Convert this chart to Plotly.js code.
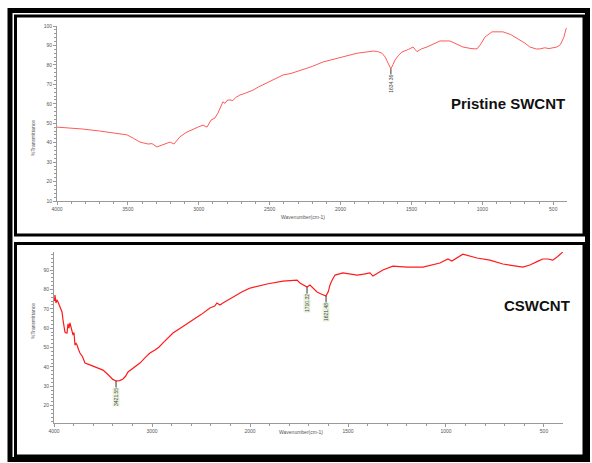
<!DOCTYPE html>
<html>
<head>
<meta charset="utf-8">
<script src="https://cdn.plot.ly/plotly-3.0.1.min.js"></script>
<style>html,body{margin:0;padding:0;background:#fff;}#chart{width:592px;height:463px;}</style>
</head>
<body>
<div id="chart"></div>
<script>
// ---- Pristine SWCNT spectrum (wavenumber cm-1, %T) ----
var pristineWave = [4000, 3900, 3817, 3700, 3605, 3506, 3460, 3415, 3358, 3330, 3295, 3260, 3224, 3203, 3175, 3133, 3090, 3041, 3000, 2970, 2942, 2914, 2886, 2865, 2850, 2840, 2830, 2815, 2800, 2780, 2760, 2740, 2710, 2680, 2650, 2618, 2580, 2519, 2470, 2406, 2350, 2286, 2200, 2124, 2000, 1884, 1820, 1771, 1740, 1708, 1685, 1666, 1645, 1630, 1616, 1590, 1567, 1520, 1489, 1461, 1430, 1391, 1340, 1299, 1229, 1180, 1137, 1080, 1038, 1010, 982, 932, 855, 800, 756, 700, 665, 620, 594, 560, 530, 502, 474, 450, 439, 425, 410, 405];
var pristineT    = [48.0, 47.5, 47.0, 46.0, 45.0, 44.0, 42.2, 40.3, 39.3, 39.5, 37.8, 38.6, 39.8, 40.3, 39.3, 43.0, 45.2, 47.0, 48.2, 49.0, 48.0, 51.6, 52.7, 55.2, 58.0, 59.8, 61.0, 60.2, 61.8, 62.0, 61.6, 63.2, 64.5, 65.2, 66.0, 67.0, 68.6, 70.7, 72.4, 74.8, 75.6, 77.0, 79.2, 81.5, 83.8, 86.0, 86.6, 87.1, 86.9, 86.0, 84.0, 81.0, 77.9, 80.2, 82.5, 85.0, 86.6, 88.0, 89.2, 86.8, 88.2, 89.2, 90.8, 92.3, 92.3, 90.6, 89.2, 88.4, 88.2, 90.8, 94.3, 97.0, 97.0, 95.6, 93.8, 91.2, 89.2, 88.2, 88.2, 88.8, 88.4, 88.7, 89.2, 90.4, 91.8, 94.2, 98.5, 99.0];

// ---- CSWCNT spectrum (wavenumber cm-1, %T) ----
var cswcntWave = [3995, 3990, 3980, 3970, 3959, 3949, 3939, 3928, 3918, 3908, 3898, 3888, 3878, 3867, 3857, 3847, 3837, 3826, 3816, 3806, 3796, 3786, 3775, 3765, 3750, 3735, 3710, 3684, 3640, 3602, 3550, 3500, 3460, 3429, 3400, 3367, 3330, 3296, 3270, 3245, 3180, 3123, 3070, 3021, 2970, 2930, 2888, 2840, 2786, 2700, 2613, 2500, 2409, 2360, 2337, 2320, 2307, 2276, 2174, 2080, 2000, 1913, 1832, 1796, 1760, 1745, 1720, 1709, 1694, 1679, 1658, 1640, 1628, 1612, 1600, 1592, 1580, 1566, 1526, 1490, 1454, 1420, 1388, 1373, 1350, 1322, 1271, 1199, 1118, 1031, 990, 970, 914, 842, 776, 710, 608, 572, 530, 506, 480, 455, 430, 404];
var cswcntT    = [74.0, 77.1, 73.0, 74.6, 73.5, 72.0, 70.9, 70.0, 68.4, 64.2, 60.8, 58.0, 57.6, 57.5, 62.2, 60.0, 62.7, 60.6, 59.0, 56.5, 57.8, 51.3, 52.2, 51.3, 49.0, 47.2, 45.4, 42.0, 41.2, 40.5, 39.4, 38.4, 36.6, 34.8, 33.6, 32.8, 33.0, 33.8, 35.2, 37.4, 39.8, 42.0, 44.8, 47.2, 48.8, 50.2, 52.4, 55.0, 57.5, 60.4, 63.2, 67.0, 70.4, 71.4, 73.0, 72.2, 72.0, 73.0, 76.1, 78.8, 80.7, 82.8, 84.3, 84.6, 84.8, 83.3, 82.0, 81.2, 82.3, 80.7, 78.7, 77.8, 77.1, 76.6, 79.0, 82.3, 85.0, 87.4, 88.5, 88.0, 87.4, 87.9, 88.5, 86.9, 88.4, 90.0, 92.0, 91.5, 91.5, 93.6, 95.7, 94.6, 98.2, 96.2, 95.1, 93.1, 91.5, 92.6, 94.6, 95.7, 95.7, 95.1, 97.0, 99.3];

// ---- peak labels ----
var pristinePeakWave = [1645];
var pristinePeakT    = [77.9];
var pristinePeakText = ["1634.36"];
var cswcntPeakWave = [3367, 1709, 1612];
var cswcntPeakT    = [32.8, 81.2, 76.6];
var cswcntPeakText = ["3421.55", "1710.32", "1621.48"];

// ---- tick labels ----
var yTicksTop = [10, 20, 30, 40, 50, 60, 70, 80, 90, 100];
var yTicksBottom = [20, 30, 40, 50, 60, 70, 80, 90];
var xTicksTop = [4000, 3500, 3000, 2500, 2000, 1500, 1000, 500];
var xTicksBottomHigh = [4000, 3000, 2000];
var xTicksBottomLow = [1500, 1000, 500];

var W = 592, H = 463;
function px(v){ return v / W; }
function py(v){ return 1 - v / H; }

// split CSWCNT into scale regions (above / below 2000 cm-1)
var hiW = [], hiT = [], loW = [], loT = [];
for (var i = 0; i < cswcntWave.length; i++) {
  if (cswcntWave[i] >= 2000) { hiW.push(cswcntWave[i]); hiT.push(cswcntT[i]); }
  if (cswcntWave[i] <= 2000) { loW.push(cswcntWave[i]); loT.push(cswcntT[i]); }
}

var tickFont = {family: 'Arial, Liberation Sans, sans-serif', size: 5, color: '#555'};
var axisCommon = {
  showgrid: false, zeroline: false, showline: true, linecolor: '#999', linewidth: 1,
  ticks: 'outside', ticklen: 3, tickcolor: '#999', tickwidth: 1, tickfont: tickFont,
  fixedrange: true
};
function ax(extra){ var o = {}; for (var k in axisCommon) o[k] = axisCommon[k]; for (var k2 in extra) o[k2] = extra[k2]; return o; }

var traces = [
  {x: pristineWave, y: pristineT, xaxis: 'x', yaxis: 'y', type: 'scatter', mode: 'lines',
   line: {color: '#ff5a5a', width: 1}, hoverinfo: 'skip'},
  {x: hiW, y: hiT, xaxis: 'x2', yaxis: 'y2', type: 'scatter', mode: 'lines',
   line: {color: '#ff1a1a', width: 1.2}, hoverinfo: 'skip'},
  {x: loW, y: loT, xaxis: 'x3', yaxis: 'y2', type: 'scatter', mode: 'lines',
   line: {color: '#ff1a1a', width: 1.2}, hoverinfo: 'skip'}
];

var annotations = [];
function peak(xr, yr, x, y, t, bottom){
  annotations.push({xref: xr, yref: yr, x: x, y: y, text: t, textangle: -90,
    showarrow: true, arrowhead: 0, arrowwidth: 1, arrowcolor: '#333', ax: 0, ay: bottom ? 16 : 15,
    font: {family: 'Arial, Liberation Sans, sans-serif', size: 5, color: bottom ? '#2c4a66' : '#444'},
    bgcolor: bottom ? '#eef2d8' : 'rgba(0,0,0,0)', borderpad: 0});
}
for (var p = 0; p < pristinePeakWave.length; p++) peak('x', 'y', pristinePeakWave[p], pristinePeakT[p], pristinePeakText[p], false);
for (var q = 0; q < cswcntPeakWave.length; q++) {
  var xr = cswcntPeakWave[q] >= 2000 ? 'x2' : 'x3';
  peak(xr, 'y2', cswcntPeakWave[q], cswcntPeakT[q], cswcntPeakText[q], true);
}

var titleFont = {family: 'Arial, Liberation Sans, sans-serif', size: 5, color: '#555'};
annotations.push({xref: 'paper', yref: 'paper', x: px(28), y: py(118), text: '%Transmittance', textangle: -90, showarrow: false, font: titleFont});
annotations.push({xref: 'paper', yref: 'paper', x: px(303), y: py(217), text: 'Wavenumber(cm-1)', showarrow: false, font: titleFont});
annotations.push({xref: 'paper', yref: 'paper', x: px(28), y: py(341), text: '%Transmittance', textangle: -90, showarrow: false, font: titleFont});
annotations.push({xref: 'paper', yref: 'paper', x: px(301), y: py(437), text: 'Wavenumber(cm-1)', showarrow: false, font: titleFont});
var labelFont = {family: 'Arial, Liberation Sans, sans-serif', size: 15, color: '#111'};
annotations.push({xref: 'paper', yref: 'paper', x: px(567), y: py(93), xanchor: 'right', text: '<b>Pristine SWCNT</b>', showarrow: false, font: labelFont});
annotations.push({xref: 'paper', yref: 'paper', x: px(572), y: py(305), xanchor: 'right', text: '<b>CSWCNT</b>', showarrow: false, font: labelFont});

var shapes = [
  {type: 'rect', xref: 'paper', yref: 'paper', x0: px(10), x1: px(587.5), y0: py(10.5), y1: py(459.5), line: {color: '#000', width: 5}},
  {type: 'rect', xref: 'paper', yref: 'paper', x0: px(15.5), x1: px(584), y0: py(16), y1: py(235), line: {color: '#000', width: 3}},
  {type: 'rect', xref: 'paper', yref: 'paper', x0: px(15.5), x1: px(584), y0: py(243.5), y1: py(456), line: {color: '#000', width: 3}}
];

var layout = {
  width: W, height: H, margin: {l: 0, r: 0, t: 0, b: 0},
  paper_bgcolor: '#fff', plot_bgcolor: 'rgba(0,0,0,0)', showlegend: false,
  xaxis: ax({domain: [px(57), px(567)], range: [4000, 403], anchor: 'y', tickvals: xTicksTop,
    minor: {dtick: 100, ticklen: 2, tickcolor: '#999', ticks: 'outside'}}),
  yaxis: ax({domain: [py(201), py(26)], range: [10, 100], anchor: 'x', tickvals: yTicksTop,
    minor: {dtick: 2, ticklen: 2, tickcolor: '#999', ticks: 'outside'}}),
  xaxis2: ax({domain: [px(54), px(250)], range: [4000, 2000], anchor: 'y2', tickvals: xTicksBottomHigh,
    minor: {dtick: 200, ticklen: 2, tickcolor: '#999', ticks: 'outside'}}),
  xaxis3: ax({domain: [px(250), px(563)], range: [2000, 403], anchor: 'y2', tickvals: xTicksBottomLow,
    minor: {dtick: 100, ticklen: 2, tickcolor: '#999', ticks: 'outside'}}),
  yaxis2: ax({domain: [py(423), py(252)], range: [11.1, 99.3], anchor: 'x2', tickvals: yTicksBottom,
    minor: {dtick: 2, ticklen: 2, tickcolor: '#999', ticks: 'outside'}}),
  annotations: annotations,
  shapes: shapes
};

Plotly.newPlot('chart', traces, layout, {displayModeBar: false, staticPlot: true});
</script>
</body>
</html>
